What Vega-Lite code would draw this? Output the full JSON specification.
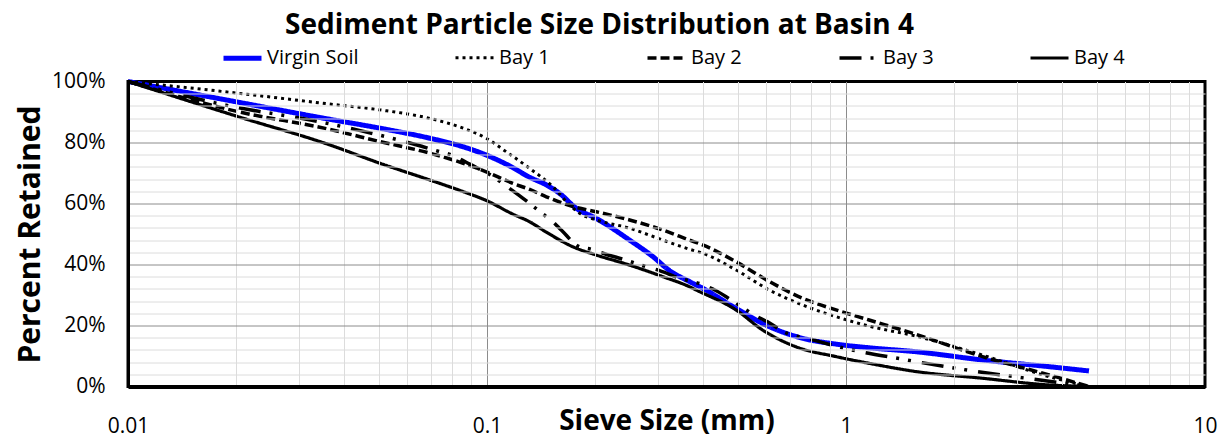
{
  "$schema": "https://vega.github.io/schema/vega-lite/v6.json",
  "width": 1077,
  "height": 305,
  "autosize": {"type": "none"},
  "padding": {"left": 128, "top": 81.5, "right": 22, "bottom": 51.5},
  "background": "white",
  "title": {
    "text": "Sediment Particle Size Distribution at Basin 4",
    "font": "Open Sans",
    "fontSize": 28,
    "fontWeight": "bold",
    "color": "black",
    "anchor": "middle",
    "dx": -67,
    "dy": 29,
    "baseline": "alphabetic",
    "offset": 4
  },
  "config": {
    "view": {"stroke": "black", "strokeWidth": 3},
    "font": "Open Sans",
    "legend": {
      "orient": "none",
      "legendX": 93,
      "legendY": -45,
      "direction": "horizontal",
      "columns": 5,
      "columnPadding": 90,
      "symbolType": "stroke",
      "symbolSize": 1444,
      "labelFont": "Open Sans",
      "labelFontSize": 20,
      "labelColor": "black",
      "labelOffset": 3,
      "labelLimit": 300,
      "title": null,
      "padding": 0
    }
  },
  "data": {
    "values": [
      {"series": "Virgin Soil", "size": 0.01, "pct": 100},
      {"series": "Virgin Soil", "size": 0.0201, "pct": 93.3},
      {"series": "Virgin Soil", "size": 0.0365, "pct": 87.6},
      {"series": "Virgin Soil", "size": 0.0503, "pct": 84.7},
      {"series": "Virgin Soil", "size": 0.0693, "pct": 81.4},
      {"series": "Virgin Soil", "size": 0.0858, "pct": 78.6},
      {"series": "Virgin Soil", "size": 0.0995, "pct": 75.9},
      {"series": "Virgin Soil", "size": 0.1157, "pct": 72.3},
      {"series": "Virgin Soil", "size": 0.1315, "pct": 68.6},
      {"series": "Virgin Soil", "size": 0.1463, "pct": 66.1},
      {"series": "Virgin Soil", "size": 0.1594, "pct": 63.3},
      {"series": "Virgin Soil", "size": 0.1774, "pct": 58.4},
      {"series": "Virgin Soil", "size": 0.2016, "pct": 55.1},
      {"series": "Virgin Soil", "size": 0.2496, "pct": 48.0},
      {"series": "Virgin Soil", "size": 0.2897, "pct": 42.6},
      {"series": "Virgin Soil", "size": 0.3225, "pct": 38.0},
      {"series": "Virgin Soil", "size": 0.3665, "pct": 34.4},
      {"series": "Virgin Soil", "size": 0.399, "pct": 32.2},
      {"series": "Virgin Soil", "size": 0.494, "pct": 25.6},
      {"series": "Virgin Soil", "size": 0.612, "pct": 19.6},
      {"series": "Virgin Soil", "size": 0.758, "pct": 15.8},
      {"series": "Virgin Soil", "size": 0.938, "pct": 13.9},
      {"series": "Virgin Soil", "size": 1.16, "pct": 12.7},
      {"series": "Virgin Soil", "size": 1.567, "pct": 11.4},
      {"series": "Virgin Soil", "size": 2.4, "pct": 8.7},
      {"series": "Virgin Soil", "size": 3.68, "pct": 6.5},
      {"series": "Virgin Soil", "size": 4.75, "pct": 5.1},

      {"series": "Bay 1", "size": 0.01, "pct": 100},
      {"series": "Bay 1", "size": 0.0201, "pct": 96.2},
      {"series": "Bay 1", "size": 0.0365, "pct": 92.6},
      {"series": "Bay 1", "size": 0.0503, "pct": 90.7},
      {"series": "Bay 1", "size": 0.0693, "pct": 87.9},
      {"series": "Bay 1", "size": 0.0858, "pct": 84.7},
      {"series": "Bay 1", "size": 0.0995, "pct": 81.4},
      {"series": "Bay 1", "size": 0.113, "pct": 77.0},
      {"series": "Bay 1", "size": 0.1315, "pct": 71.5},
      {"series": "Bay 1", "size": 0.1526, "pct": 65.5},
      {"series": "Bay 1", "size": 0.17, "pct": 59.5},
      {"series": "Bay 1", "size": 0.181, "pct": 56.8},
      {"series": "Bay 1", "size": 0.2016, "pct": 54.6},
      {"series": "Bay 1", "size": 0.2496, "pct": 51.9},
      {"series": "Bay 1", "size": 0.309, "pct": 48.0},
      {"series": "Bay 1", "size": 0.3665, "pct": 45.0},
      {"series": "Bay 1", "size": 0.399, "pct": 43.7},
      {"series": "Bay 1", "size": 0.494, "pct": 38.2},
      {"series": "Bay 1", "size": 0.612, "pct": 31.6},
      {"series": "Bay 1", "size": 0.758, "pct": 26.7},
      {"series": "Bay 1", "size": 0.938, "pct": 22.9},
      {"series": "Bay 1", "size": 1.16, "pct": 19.8},
      {"series": "Bay 1", "size": 1.567, "pct": 16.5},
      {"series": "Bay 1", "size": 2.4, "pct": 10.3},
      {"series": "Bay 1", "size": 3.68, "pct": 3.2},
      {"series": "Bay 1", "size": 4.75, "pct": 0},

      {"series": "Bay 2", "size": 0.01, "pct": 100},
      {"series": "Bay 2", "size": 0.0201, "pct": 90.2},
      {"series": "Bay 2", "size": 0.0365, "pct": 84.3},
      {"series": "Bay 2", "size": 0.0503, "pct": 80.3},
      {"series": "Bay 2", "size": 0.0693, "pct": 76.5},
      {"series": "Bay 2", "size": 0.0858, "pct": 73.2},
      {"series": "Bay 2", "size": 0.0995, "pct": 70.4},
      {"series": "Bay 2", "size": 0.1181, "pct": 66.6},
      {"series": "Bay 2", "size": 0.1315, "pct": 64.6},
      {"series": "Bay 2", "size": 0.1463, "pct": 62.2},
      {"series": "Bay 2", "size": 0.1735, "pct": 59.0},
      {"series": "Bay 2", "size": 0.2016, "pct": 57.3},
      {"series": "Bay 2", "size": 0.2496, "pct": 54.6},
      {"series": "Bay 2", "size": 0.309, "pct": 51.3},
      {"series": "Bay 2", "size": 0.3665, "pct": 48.0},
      {"series": "Bay 2", "size": 0.399, "pct": 46.4},
      {"series": "Bay 2", "size": 0.494, "pct": 40.9},
      {"series": "Bay 2", "size": 0.612, "pct": 34.4},
      {"series": "Bay 2", "size": 0.758, "pct": 28.9},
      {"series": "Bay 2", "size": 0.938, "pct": 25.1},
      {"series": "Bay 2", "size": 1.16, "pct": 21.8},
      {"series": "Bay 2", "size": 1.567, "pct": 17.1},
      {"series": "Bay 2", "size": 2.4, "pct": 9.8},
      {"series": "Bay 2", "size": 3.68, "pct": 3.8},
      {"series": "Bay 2", "size": 4.75, "pct": 0},

      {"series": "Bay 3", "size": 0.01, "pct": 100},
      {"series": "Bay 3", "size": 0.0201, "pct": 91.5},
      {"series": "Bay 3", "size": 0.0325, "pct": 87.3},
      {"series": "Bay 3", "size": 0.0444, "pct": 83.9},
      {"series": "Bay 3", "size": 0.0638, "pct": 79.2},
      {"series": "Bay 3", "size": 0.0738, "pct": 77.0},
      {"series": "Bay 3", "size": 0.0796, "pct": 75.9},
      {"series": "Bay 3", "size": 0.0895, "pct": 72.9},
      {"series": "Bay 3", "size": 0.104, "pct": 68.8},
      {"series": "Bay 3", "size": 0.112, "pct": 66.1},
      {"series": "Bay 3", "size": 0.126, "pct": 61.7},
      {"series": "Bay 3", "size": 0.143, "pct": 56.6},
      {"series": "Bay 3", "size": 0.1526, "pct": 54.0},
      {"series": "Bay 3", "size": 0.161, "pct": 51.3},
      {"series": "Bay 3", "size": 0.181, "pct": 45.8},
      {"series": "Bay 3", "size": 0.1953, "pct": 45.0},
      {"series": "Bay 3", "size": 0.2103, "pct": 43.7},
      {"series": "Bay 3", "size": 0.2428, "pct": 41.5},
      {"series": "Bay 3", "size": 0.2805, "pct": 39.1},
      {"series": "Bay 3", "size": 0.3025, "pct": 38.0},
      {"series": "Bay 3", "size": 0.3437, "pct": 35.5},
      {"series": "Bay 3", "size": 0.4008, "pct": 33.3},
      {"series": "Bay 3", "size": 0.435, "pct": 31.4},
      {"series": "Bay 3", "size": 0.494, "pct": 27.3},
      {"series": "Bay 3", "size": 0.562, "pct": 23.1},
      {"series": "Bay 3", "size": 0.605, "pct": 21.2},
      {"series": "Bay 3", "size": 0.674, "pct": 17.8},
      {"series": "Bay 3", "size": 0.8, "pct": 15.5},
      {"series": "Bay 3", "size": 0.861, "pct": 14.4},
      {"series": "Bay 3", "size": 0.994, "pct": 12.5},
      {"series": "Bay 3", "size": 1.445, "pct": 8.9},
      {"series": "Bay 3", "size": 2.09, "pct": 5.7},
      {"series": "Bay 3", "size": 3.05, "pct": 3.0},
      {"series": "Bay 3", "size": 4.75, "pct": 0},

      {"series": "Bay 4", "size": 0.01, "pct": 100},
      {"series": "Bay 4", "size": 0.0201, "pct": 88.6},
      {"series": "Bay 4", "size": 0.0365, "pct": 79.2},
      {"series": "Bay 4", "size": 0.0503, "pct": 73.2},
      {"series": "Bay 4", "size": 0.0693, "pct": 67.7},
      {"series": "Bay 4", "size": 0.0858, "pct": 63.9},
      {"series": "Bay 4", "size": 0.0995, "pct": 61.0},
      {"series": "Bay 4", "size": 0.1181, "pct": 56.5},
      {"series": "Bay 4", "size": 0.1315, "pct": 54.0},
      {"series": "Bay 4", "size": 0.1463, "pct": 50.6},
      {"series": "Bay 4", "size": 0.1735, "pct": 45.8},
      {"series": "Bay 4", "size": 0.2016, "pct": 43.1},
      {"series": "Bay 4", "size": 0.2496, "pct": 39.8},
      {"series": "Bay 4", "size": 0.309, "pct": 36.0},
      {"series": "Bay 4", "size": 0.3665, "pct": 32.7},
      {"series": "Bay 4", "size": 0.383, "pct": 31.6},
      {"series": "Bay 4", "size": 0.494, "pct": 25.1},
      {"series": "Bay 4", "size": 0.586, "pct": 18.5},
      {"series": "Bay 4", "size": 0.726, "pct": 13.0},
      {"series": "Bay 4", "size": 0.938, "pct": 9.8},
      {"series": "Bay 4", "size": 1.16, "pct": 7.6},
      {"series": "Bay 4", "size": 1.567, "pct": 4.9},
      {"series": "Bay 4", "size": 2.4, "pct": 2.7},
      {"series": "Bay 4", "size": 3.68, "pct": 0.5},
      {"series": "Bay 4", "size": 4.75, "pct": 0}
    ]
  },
  "mark": {"type": "line", "interpolate": "monotone"},
  "encoding": {
    "x": {
      "field": "size",
      "type": "quantitative",
      "scale": {"type": "log", "domain": [0.01, 10]},
      "axis": {
        "values": [0.01, 0.02, 0.03, 0.04, 0.05, 0.06, 0.07, 0.08, 0.09, 0.1, 0.2, 0.3, 0.4, 0.5, 0.6, 0.7, 0.8, 0.9, 1, 2, 3, 4, 5, 6, 7, 8, 9, 10],
        "format": "~g",
        "labelExpr": "indexof([0.01, 0.1, 1, 10], datum.value) >= 0 ? datum.label : ''",
        "labelFont": "Open Sans",
        "labelFontSize": 21,
        "labelColor": "black",
        "labelPadding": 29,
        "labelFlush": false,
        "labelOverlap": false,
        "ticks": false,
        "domainColor": "black",
        "domainWidth": 4,
        "zindex": 1,
        "gridColor": {"condition": {"test": "indexof([0.01, 0.1, 1, 10], datum.value) >= 0", "value": "#8c8c8c"}, "value": "#dcdcdc"},
        "gridOpacity": {"condition": {"test": "datum.value == 0.01 || datum.value == 10", "value": 0}, "value": 1},
        "title": "Sieve Size (mm)",
        "titleFont": "Open Sans",
        "titleFontSize": 28,
        "titleFontWeight": "bold",
        "titleColor": "black",
        "titleBaseline": "middle",
        "titleY": 34.5
      }
    },
    "y": {
      "field": "pct",
      "type": "quantitative",
      "scale": {"domain": [0, 100]},
      "axis": {
        "values": [0, 4, 8, 12, 16, 20, 24, 28, 32, 36, 40, 44, 48, 52, 56, 60, 64, 68, 72, 76, 80, 84, 88, 92, 96, 100],
        "labelExpr": "datum.value % 20 == 0 ? datum.value + '%' : ''",
        "labelFont": "Open Sans",
        "labelFontSize": 21,
        "labelColor": "black",
        "labelPadding": 23,
        "labelFlush": false,
        "labelOverlap": false,
        "ticks": false,
        "domainColor": "black",
        "domainWidth": 3,
        "zindex": 1,
        "gridColor": {"condition": {"test": "datum.value % 20 == 0", "value": "#8c8c8c"}, "value": "#dcdcdc"},
        "gridOpacity": {"condition": {"test": "datum.value == 0 || datum.value == 100", "value": 0}, "value": 1},
        "title": "Percent Retained",
        "titleFont": "Open Sans",
        "titleFontSize": 30,
        "titleFontWeight": "bold",
        "titleColor": "black",
        "titleAngle": -90,
        "titleAlign": "center",
        "titleBaseline": "middle",
        "titleX": -98,
        "titleY": 152.5
      }
    },
    "color": {
      "field": "series",
      "type": "nominal",
      "scale": {
        "domain": ["Virgin Soil", "Bay 1", "Bay 2", "Bay 3", "Bay 4"],
        "range": ["#0000ff", "#000000", "#000000", "#000000", "#000000"]
      }
    },
    "strokeDash": {
      "field": "series",
      "type": "nominal",
      "scale": {
        "domain": ["Virgin Soil", "Bay 1", "Bay 2", "Bay 3", "Bay 4"],
        "range": [[1, 0], [3, 4], [9, 4], [22, 9, 3, 9, 3, 11], [1, 0]]
      }
    },
    "strokeWidth": {
      "field": "series",
      "type": "nominal",
      "scale": {
        "type": "ordinal",
        "domain": ["Virgin Soil", "Bay 1", "Bay 2", "Bay 3", "Bay 4"],
        "range": [5, 3, 3.5, 3.5, 3.2]
      }
    }
  }
}
